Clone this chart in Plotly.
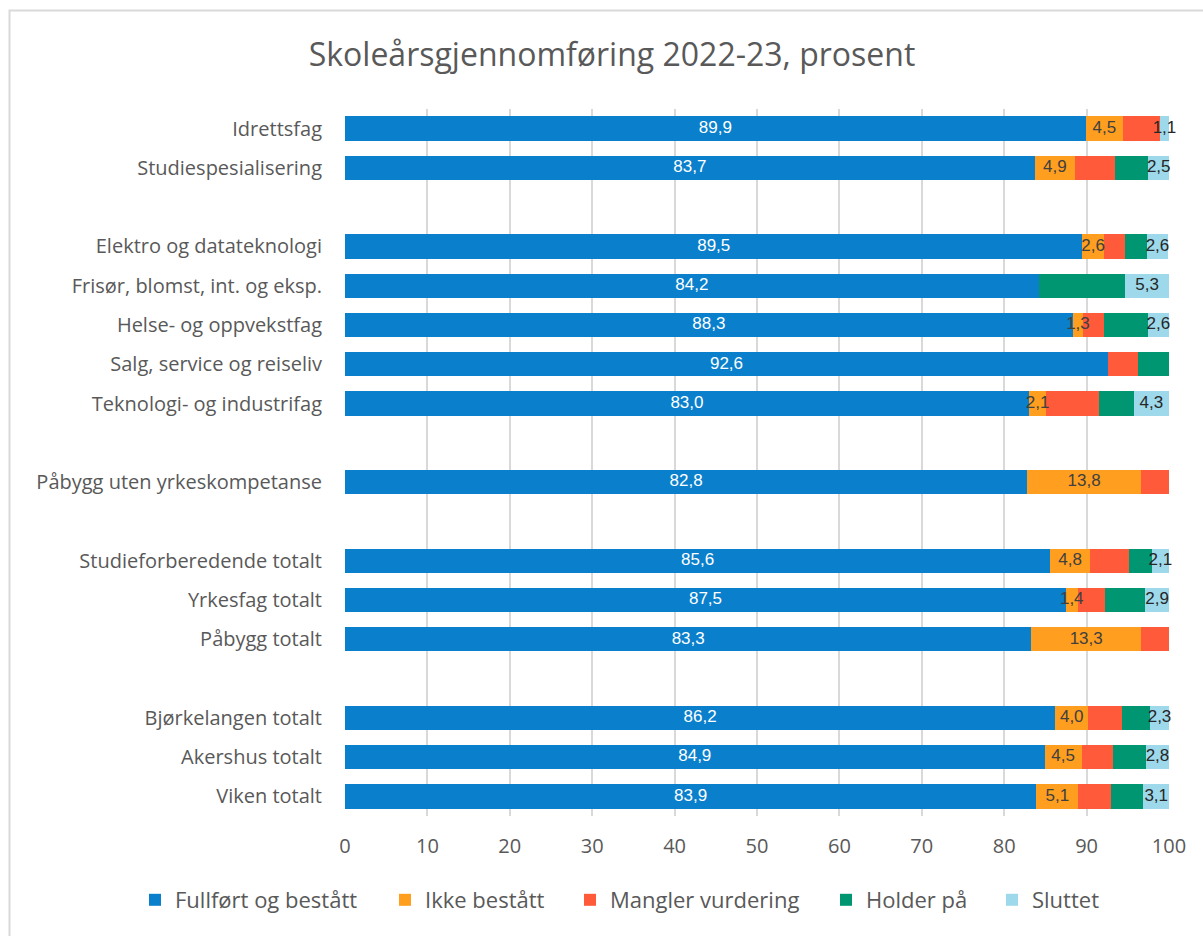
import plotly.graph_objects as go

categories = [
    "Idrettsfag", "Studiespesialisering", " ",
    "Elektro og datateknologi", "Frisør, blomst, int. og eksp.", "Helse- og oppvekstfag",
    "Salg, service og reiseliv", "Teknologi- og industrifag", "  ",
    "Påbygg uten yrkeskompetanse", "   ",
    "Studieforberedende totalt", "Yrkesfag totalt", "Påbygg totalt", "    ",
    "Bjørkelangen totalt", "Akershus totalt", "Viken totalt",
]

fullfort = [89.9, 83.7, None, 89.5, 84.2, 88.3, 92.6, 83.0, None, 82.8, None, 85.6, 87.5, 83.3, None, 86.2, 84.9, 83.9]
ikke_bestatt = [4.5, 4.9, None, 2.6, 0.0, 1.3, 0.0, 2.1, None, 13.8, None, 4.8, 1.4, 13.3, None, 4.0, 4.5, 5.1]
mangler = [4.5, 4.9, None, 2.5, 0.0, 2.5, 3.6, 6.4, None, 3.4, None, 4.7, 3.3, 3.4, None, 4.1, 3.8, 4.0]
holder_pa = [0.0, 4.0, None, 2.7, 10.5, 5.3, 3.8, 4.2, None, 0.0, None, 2.8, 4.9, 0.0, None, 3.4, 4.0, 3.9]
sluttet = [1.1, 2.5, None, 2.6, 5.3, 2.6, 0.0, 4.3, None, 0.0, None, 2.1, 2.9, 0.0, None, 2.3, 2.8, 3.1]

series_names = ["Fullført og bestått", "Ikke bestått", "Mangler vurdering", "Holder på", "Sluttet"]
series_values = [fullfort, ikke_bestatt, mangler, holder_pa, sluttet]
series_colors = ["#0A80CC", "#FF9E1F", "#FF5B3A", "#009672", "#9DD9EB"]
show_labels = [True, True, False, False, True]
label_colors = ["#FFFFFF", "#404040", "#404040", "#404040", "#262626"]
legend_left_px = [135, 385, 570, 826, 992]  # left edge of each legend entry

FONT = "Open Sans"
LABEL_FONT = "Liberation Sans Narrow, Liberation Sans, Arial"


def fmt(v):
    if v is None or v == 0:
        return ""
    return f"{v:.1f}".replace(".", ",")


legend_ids = ["legend"] + [f"legend{i}" for i in range(2, len(series_names) + 1)]

fig = go.Figure()
for name, vals, col, lid in zip(series_names, series_values, series_colors, legend_ids):
    fig.add_trace(go.Bar(
        y=categories, x=vals, name=name, orientation="h", legend=lid,
        marker=dict(color=col, line=dict(width=0)),
        hoverinfo="x+y+name",
    ))

# data labels drawn on top of every bar, centred in their segment
base = [0.0 if v is not None else None for v in fullfort]
for vals, lab, lcol in zip(series_values, show_labels, label_colors):
    mids = [(b + v / 2) if (b is not None and v is not None) else None for b, v in zip(base, vals)]
    if lab:
        fig.add_trace(go.Scatter(
            y=categories, x=mids, mode="text", text=[fmt(v) for v in vals],
            textposition="middle center", cliponaxis=False, showlegend=False, hoverinfo="skip",
            textfont=dict(family=LABEL_FONT, size=17, color=lcol),
        ))
    base = [(b + v) if (b is not None and v is not None) else None for b, v in zip(base, vals)]

W, H = 1203, 936
ml, mr, mt, mb = 345, 34, 109, 120
pw, ph = W - ml - mr, H - mt - mb

legend_layout = {}
for lid, lx in zip(legend_ids, legend_left_px):
    legend_layout[lid] = dict(
        orientation="h", xref="paper", yref="paper", x=(lx - ml) / pw, xanchor="left",
        y=-(900 - (mt + ph)) / ph, yanchor="middle",
        font=dict(family=FONT, size=22, color="#595959"), itemwidth=30,
        bgcolor="rgba(0,0,0,0)",
    )

fig.update_layout(
    width=W, height=H, barmode="stack", bargap=0.38,
    paper_bgcolor="white", plot_bgcolor="white",
    margin=dict(l=ml, r=mr, t=mt, b=mb, autoexpand=False),
    font=dict(family=FONT, color="#595959"),
    title=dict(text="Skoleårsgjennomføring 2022-23, prosent", font=dict(family=FONT, size=32, color="#595959"),
               x=612 / W, xref="container", xanchor="center", y=1 - 55 / H, yref="container", yanchor="middle"),
    xaxis=dict(range=[0, 100], dtick=10, showgrid=True, gridcolor="#D9D9D9", gridwidth=1.5,
               zeroline=False, showline=False, ticks="outside", ticklen=0,
               tickfont=dict(family=FONT, size=20, color="#595959"), ticklabelstandoff=12),
    yaxis=dict(categoryorder="array", categoryarray=categories,
               range=[len(categories) - 0.5, -0.5], autorange=False,
               showgrid=False, showline=False, zeroline=False,
               tickfont=dict(family=FONT, size=20, color="#595959"), ticklabelstandoff=22),
    showlegend=True,
    **legend_layout,
)

# chart-area border
fig.add_shape(type="rect", xref="paper", yref="paper",
              x0=(9.5 - ml) / pw, x1=(W + 20 - ml) / pw,
              y0=-(H + 20 - mt - ph) / ph, y1=(mt + ph - 10.5) / ph,
              line=dict(color="#D9D9D9", width=2), fillcolor="rgba(0,0,0,0)", layer="below")

fig.write_html("out.html", config={"displayModeBar": False},
               post_script="document.body.style.margin='0px';document.body.style.overflow='hidden';")
